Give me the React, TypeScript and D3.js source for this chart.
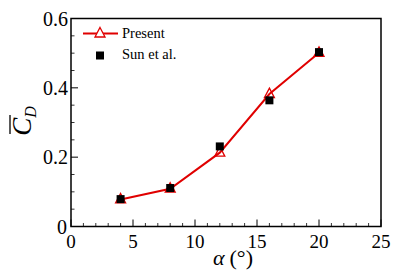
import React from 'react';
import * as d3 from 'd3';

const alphaValues = [4, 8, 12, 16, 20];
const presentCd = [0.078, 0.109, 0.213, 0.382, 0.501];
const sunCd = [0.079, 0.111, 0.231, 0.364, 0.503];
const xTicks = [0, 5, 10, 15, 20, 25];
const yTicks = [0, 0.2, 0.4, 0.6];

const W = 407;
const H = 272;
const margin = { left: 71, right: 26, top: 18.5, bottom: 45.5 };
const red = '#e00000';

export default function App() {
  const x = d3.scaleLinear().domain([0, 25]).range([margin.left, W - margin.right]);
  const y = d3.scaleLinear().domain([0, 0.6]).range([H - margin.bottom, margin.top]);

  const line = d3
    .line<number>()
    .x((_, i) => x(alphaValues[i]))
    .y((d) => y(d));

  const xMinor = d3.range(0, 26, 1).filter((v) => v % 5 !== 0);
  const yMinor = d3.range(0, 0.6001, 0.05).filter((v) => Math.abs(v / 0.2 - Math.round(v / 0.2)) > 1e-6);

  // open triangle marker
  const tri = (cx: number, cy: number, s: number) =>
    `M${cx},${cy - s * 0.6}L${cx + s * 0.5},${cy + s * 0.35}L${cx - s * 0.5},${cy + s * 0.35}Z`;

  const x0 = x(0);
  const yBase = y(0);

  return (
    <svg
      width={W}
      height={H}
      fontFamily="Liberation Serif"
      style={{ position: 'absolute', left: 0, top: 0, background: '#fff', fontFamily: 'Liberation Serif' }}
    >
      <rect
        x={margin.left}
        y={margin.top}
        width={W - margin.left - margin.right}
        height={H - margin.top - margin.bottom}
        fill="none"
        stroke="#000"
        strokeWidth={1.5}
      />
      {xTicks.map((t) => (
        <g key={'xt' + t}>
          <line x1={x(t)} x2={x(t)} y1={yBase} y2={yBase - 7} stroke="#000" strokeWidth={1} />
          <text x={x(t)} y={248} textAnchor="middle" fontSize={19}>
            {t}
          </text>
        </g>
      ))}
      {xMinor.map((t) => (
        <line key={'xm' + t} x1={x(t)} x2={x(t)} y1={yBase} y2={yBase - 3.5} stroke="#000" strokeWidth={0.8} />
      ))}
      {yTicks.map((t) => (
        <g key={'yt' + t}>
          <line x1={x0} x2={x0 + 7} y1={y(t)} y2={y(t)} stroke="#000" strokeWidth={1} />
          <text x={t === 0 ? 67 : 68} y={y(t) + 7} textAnchor="end" fontSize={20}>
            {t === 0 ? '0' : t.toFixed(1)}
          </text>
        </g>
      ))}
      {yMinor.map((t) => (
        <line key={'ym' + t} x1={x0} x2={x0 + 3.5} y1={y(t)} y2={y(t)} stroke="#000" strokeWidth={0.8} />
      ))}

      <path d={line(presentCd) || ''} fill="none" stroke={red} strokeWidth={2} />
      {presentCd.map((v, i) => (
        <path key={'p' + i} d={tri(x(alphaValues[i]), y(v), 10)} fill="none" stroke={red} strokeWidth={1.3} />
      ))}
      {sunCd.map((v, i) => (
        <rect key={'s' + i} x={x(alphaValues[i]) - 4} y={y(v) - 4} width={8} height={8} fill="#000" />
      ))}

      {/* legend */}
      <line x1={83} x2={118} y1={33.5} y2={33.5} stroke={red} strokeWidth={2} />
      <path d={tri(100, 33.5, 10)} fill="#fff" stroke={red} strokeWidth={1.3} />
      <text x={122} y={38} fontSize={14.5}>
        Present
      </text>
      <rect x={96} y={51.5} width={8} height={8} fill="#000" />
      <text x={122} y={59} fontSize={14.5}>
        Sun et al.
      </text>

      {/* axis titles */}
      <text x={233} y={265} textAnchor="middle" fontSize={22}>
        <tspan fontStyle="italic">α</tspan>
        <tspan dx={5}>(°)</tspan>
      </text>
      <g transform="translate(31,121) rotate(-90)">
        <text x={0} y={0} textAnchor="middle" fontSize={27}>
          <tspan fontStyle="italic">C</tspan>
          <tspan fontStyle="italic" fontSize={16} dy={5}>D</tspan>
        </text>
        <line x1={-13} x2={6} y1={-21} y2={-21} stroke="#000" strokeWidth={1.3} />
      </g>
    </svg>
  );
}
